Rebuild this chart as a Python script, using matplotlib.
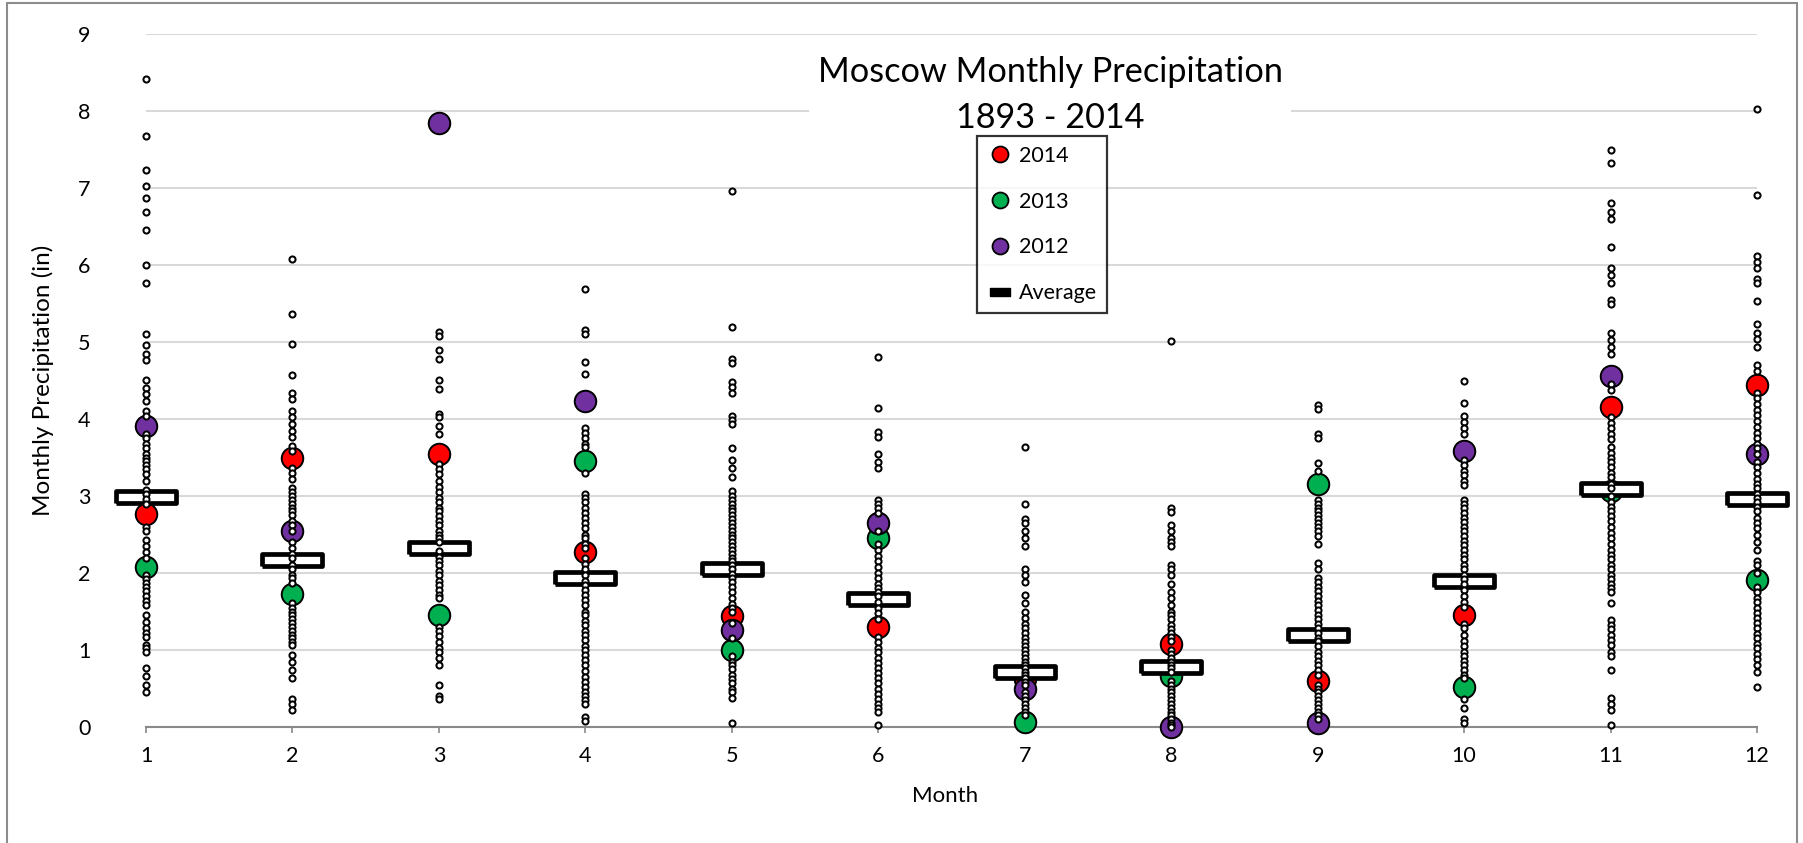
import matplotlib
matplotlib.use("Agg")
import matplotlib.pyplot as plt
from matplotlib.lines import Line2D
from matplotlib.patches import Rectangle

plt.rcParams['font.family'] = ['Lato', 'DejaVu Sans']

# ---- data ----
months = list(range(1, 13))
avg = [2.99, 2.17, 2.33, 1.94, 2.05, 1.66, 0.71, 0.78, 1.19, 1.89, 3.09, 2.96]
p2014 = [2.77, 3.50, 3.55, 2.27, 1.44, 1.30, 0.62, 1.08, 0.60, 1.46, 4.15, 4.44]
p2013 = [2.08, 1.73, 1.45, 3.45, 1.00, 2.46, 0.07, 0.66, 3.15, 0.52, 3.06, 1.91]
p2012 = [3.91, 2.54, 7.84, 4.23, 1.26, 2.65, 0.49, 0.00, 0.05, 3.58, 4.56, 3.54]

jan = [8.42, 7.67, 7.24, 7.03, 6.87, 6.69, 6.46, 6.00, 5.76, 5.11, 4.96, 4.85, 4.77, 4.51,
       4.40, 4.32, 4.23, 4.10, 4.04, 3.80, 3.75, 3.68, 3.62, 3.55, 3.50, 3.46, 3.40, 3.35,
       3.28, 3.20, 3.08, 3.02, 2.96, 2.90, 2.60, 2.54, 2.43, 2.35, 2.27, 2.20, 1.97, 1.92,
       1.87, 1.82, 1.76, 1.70, 1.64, 1.58, 1.45, 1.37, 1.28, 1.22, 1.17, 1.07, 1.02, 0.98,
       0.77, 0.66, 0.55, 0.46]
feb = [6.08, 5.37, 4.97, 4.57, 4.34, 4.26, 4.10, 4.02, 3.93, 3.85, 3.77, 3.65, 3.58, 3.36,
       3.30, 3.22, 3.10, 3.05, 3.00, 2.95, 2.90, 2.85, 2.80, 2.75, 2.68, 2.62, 2.54, 2.40,
       2.33, 2.25, 2.20, 2.10, 2.05, 1.98, 1.93, 1.87, 1.61, 1.55, 1.50, 1.45, 1.40, 1.35,
       1.30, 1.25, 1.20, 1.15, 1.10, 1.07, 0.93, 0.85, 0.74, 0.64, 0.36, 0.30, 0.22]
mar = [5.13, 5.08, 4.89, 4.78, 4.51, 4.39, 4.07, 4.02, 3.91, 3.80, 3.42, 3.35, 3.28, 3.20,
       3.12, 3.05, 2.98, 2.92, 2.85, 2.80, 2.74, 2.68, 2.62, 2.55, 2.50, 2.45, 2.40, 2.28,
       2.21, 2.15, 2.10, 2.03, 1.97, 1.90, 1.85, 1.78, 1.72, 1.67, 1.30, 1.25, 1.18, 1.10,
       1.02, 0.97, 0.90, 0.80, 0.55, 0.40, 0.36]
apr = [5.69, 5.15, 5.11, 4.74, 4.59, 3.88, 3.82, 3.75, 3.68, 3.63, 3.30, 3.03, 2.98, 2.92,
       2.85, 2.78, 2.72, 2.65, 2.58, 2.50, 2.45, 2.38, 2.33, 2.20, 2.12, 2.05, 1.98, 1.90,
       1.85, 1.78, 1.72, 1.65, 1.58, 1.50, 1.45, 1.38, 1.32, 1.25, 1.20, 1.13, 1.05, 1.00,
       0.93, 0.87, 0.80, 0.73, 0.65, 0.58, 0.52, 0.45, 0.40, 0.35, 0.30, 0.13, 0.08]
may = [6.96, 5.19, 4.78, 4.73, 4.48, 4.41, 4.34, 4.04, 3.99, 3.93, 3.62, 3.47, 3.36, 3.25,
       3.06, 3.00, 2.95, 2.90, 2.85, 2.80, 2.75, 2.70, 2.65, 2.60, 2.55, 2.50, 2.45, 2.40,
       2.35, 2.30, 2.25, 2.20, 2.15, 2.10, 2.05, 1.99, 1.94, 1.88, 1.82, 1.75, 1.68, 1.60,
       1.55, 1.50, 1.35, 1.15, 0.92, 0.85, 0.80, 0.75, 0.68, 0.62, 0.57, 0.50, 0.45, 0.38,
       0.05]
jun = [4.80, 4.14, 3.83, 3.77, 3.55, 3.44, 3.36, 2.95, 2.90, 2.84, 2.78, 2.55, 2.38, 2.30,
       2.22, 2.15, 2.08, 2.00, 1.93, 1.86, 1.80, 1.75, 1.70, 1.62, 1.55, 1.48, 1.40, 1.17,
       1.10, 1.03, 0.97, 0.90, 0.83, 0.77, 0.70, 0.63, 0.57, 0.50, 0.43, 0.37, 0.30, 0.25,
       0.20, 0.03]
jul = [3.63, 2.90, 2.70, 2.65, 2.54, 2.46, 2.35, 2.05, 1.97, 1.88, 1.72, 1.61, 1.50, 1.42,
       1.34, 1.28, 1.22, 1.16, 1.10, 1.05, 1.00, 0.95, 0.90, 0.85, 0.80, 0.76, 0.72, 0.68,
       0.63, 0.58, 0.55, 0.45, 0.40, 0.35, 0.30, 0.25, 0.20, 0.15]
aug = [5.01, 2.84, 2.79, 2.62, 2.54, 2.46, 2.40, 2.35, 2.10, 2.05, 1.97, 1.86, 1.75, 1.67,
       1.58, 1.50, 1.45, 1.40, 1.33, 1.27, 1.22, 1.17, 1.12, 1.00, 0.95, 0.90, 0.85, 0.80,
       0.76, 0.72, 0.60, 0.55, 0.50, 0.45, 0.40, 0.35, 0.30, 0.25, 0.20, 0.15, 0.10, 0.05,
       0.02, 0.00]
sep = [4.18, 4.13, 3.80, 3.75, 3.43, 3.32, 2.95, 2.90, 2.85, 2.80, 2.75, 2.70, 2.65, 2.60,
       2.55, 2.48, 2.38, 2.13, 2.05, 1.94, 1.88, 1.82, 1.76, 1.70, 1.64, 1.58, 1.52, 1.46,
       1.40, 1.34, 1.28, 1.22, 1.16, 1.12, 1.05, 0.98, 0.92, 0.86, 0.80, 0.74, 0.68, 0.55,
       0.50, 0.45, 0.40, 0.35, 0.30, 0.25, 0.20, 0.15, 0.10]
oct_ = [4.50, 4.21, 4.04, 3.96, 3.88, 3.80, 3.47, 3.40, 3.33, 3.27, 3.20, 3.14, 2.95, 2.90,
        2.85, 2.78, 2.72, 2.66, 2.60, 2.54, 2.48, 2.42, 2.36, 2.30, 2.24, 2.18, 2.10, 2.05,
        1.98, 1.92, 1.86, 1.78, 1.70, 1.62, 1.56, 1.34, 1.28, 1.20, 1.12, 1.05, 0.98, 0.92,
        0.86, 0.80, 0.74, 0.68, 0.64, 0.36, 0.25, 0.11, 0.05]
nov = [7.49, 7.32, 6.80, 6.69, 6.60, 6.24, 5.96, 5.87, 5.77, 5.55, 5.50, 5.12, 5.03, 4.93,
       4.84, 4.45, 4.38, 4.02, 3.95, 3.88, 3.80, 3.74, 3.63, 3.56, 3.50, 3.44, 3.38, 3.30,
       3.25, 3.15, 3.10, 3.00, 2.92, 2.86, 2.80, 2.74, 2.68, 2.60, 2.52, 2.45, 2.38, 2.30,
       2.24, 2.18, 2.10, 2.05, 1.98, 1.92, 1.86, 1.80, 1.75, 1.61, 1.39, 1.33, 1.27, 1.20,
       1.13, 1.06, 0.98, 0.92, 0.74, 0.38, 0.30, 0.22, 0.03]
dec = [8.02, 6.91, 6.12, 6.04, 5.96, 5.82, 5.77, 5.53, 5.23, 5.12, 5.04, 4.93, 4.70, 4.62,
       4.34, 4.27, 4.20, 4.12, 4.05, 3.98, 3.90, 3.82, 3.75, 3.68, 3.62, 3.54, 3.44, 3.38,
       3.30, 3.22, 3.16, 3.10, 3.03, 2.98, 2.92, 2.86, 2.80, 2.72, 2.65, 2.58, 2.50, 2.40,
       2.30, 2.16, 2.10, 2.00, 1.82, 1.75, 1.68, 1.62, 1.55, 1.48, 1.42, 1.35, 1.28, 1.21,
       1.15, 1.08, 1.02, 0.95, 0.88, 0.80, 0.72, 0.52]
all_years = [jan, feb, mar, apr, may, jun, jul, aug, sep, oct_, nov, dec]

RED, GREEN, PURPLE = '#FF0000', '#00B050', '#7030A0'

W, H = 1803, 843
fig = plt.figure(figsize=(W / 100, H / 100), dpi=100)
ax = fig.add_axes([146 / W, 1 - 727 / H, (1757 - 146) / W, (727 - 34) / H])

# average bar marker (wide flat rectangle)
rect = [(-1, -0.2), (1, -0.2), (1, 0.2), (-1, 0.2), (-1, -0.2)]

for vals, col in [(p2014, RED), (p2013, GREEN), (p2012, PURPLE)]:
    ax.plot(months, vals, ls='none', marker='o', ms=15.5, mfc=col, mec='black',
            mew=1.4, zorder=2, clip_on=False)
ax.plot(months, avg, ls='none', marker=rect, ms=43, mfc='white', mec='black',
        mew=3.4, zorder=3, clip_on=False)
for m, vals in zip(months, all_years):
    ax.plot([m] * len(vals), vals, ls='none', marker='o', ms=4.4, mfc='white',
            mec='black', mew=1.45, zorder=4, clip_on=False)

ax.set_xlim(1, 12)
ax.set_ylim(0, 9)
ax.set_xticks(months)
ax.set_yticks(range(10))
ax.grid(axis='y', color='#D9D9D9', lw=1.5)
ax.set_axisbelow(True)
for s in ['top', 'right', 'left']:
    ax.spines[s].set_visible(False)
ax.spines['bottom'].set_color('#898989')
ax.spines['bottom'].set_linewidth(1.5)
ax.spines['bottom'].set_zorder(1)
ax.tick_params(axis='x', length=4.5, width=1.2, color='#898989', pad=9, labelsize=15.5)
ax.tick_params(axis='y', length=0, pad=40, labelsize=15.5)
ax.set_xlabel('Month', fontsize=16)
ax.xaxis.set_label_coords(0.496, (727 - 786) / (727 - 34))
ax.set_ylabel('Monthly Precipitation (in)', fontsize=17.5)
ax.yaxis.set_label_coords((54 - 146) / (1757 - 146), 0.50)

# title with white backing, kept below the legend
ax.text(1050 / W, 1 - 56 / H, 'Moscow Monthly Precipitation\n1893 - 2014',
        transform=fig.transFigure, ha='center', va='top', fontsize=24.7,
        linespacing=1.55, zorder=4.5,
        bbox=dict(facecolor='white', edgecolor='none', pad=6))

box_marker = [(-1, -0.4), (1, -0.4), (1, 0.4), (-1, 0.4), (-1, -0.4)]
handles = [
    Line2D([], [], ls='none', marker='o', ms=11.5, mfc=RED, mec='black', mew=1.3),
    Line2D([], [], ls='none', marker='o', ms=11.5, mfc=GREEN, mec='black', mew=1.3),
    Line2D([], [], ls='none', marker='o', ms=11.5, mfc=PURPLE, mec='black', mew=1.3),
    Line2D([], [], ls='none', marker=box_marker, ms=14, mfc='black', mec='black', mew=1),
]
leg = ax.legend(handles, ['2014', '2013', '2012', 'Average'], loc='upper left',
                bbox_to_anchor=(977 / W, 1 - 136 / H), bbox_transform=fig.transFigure,
                borderaxespad=0, frameon=True, fancybox=False, fontsize=15.5,
                handlelength=1.2, handletextpad=0.3, labelspacing=1.2,
                borderpad=0.45)
leg.get_frame().set_edgecolor('black')
leg.get_frame().set_linewidth(1.6)
leg.set_zorder(6)

# outer chart border
fig.patches.append(Rectangle((7 / W, -0.02), (1797 - 7) / W, 1 - 3 / H + 0.02,
                             transform=fig.transFigure, fill=False,
                             edgecolor='#8C8C8C', lw=1.5))

fig.savefig('out.png', dpi=100)
